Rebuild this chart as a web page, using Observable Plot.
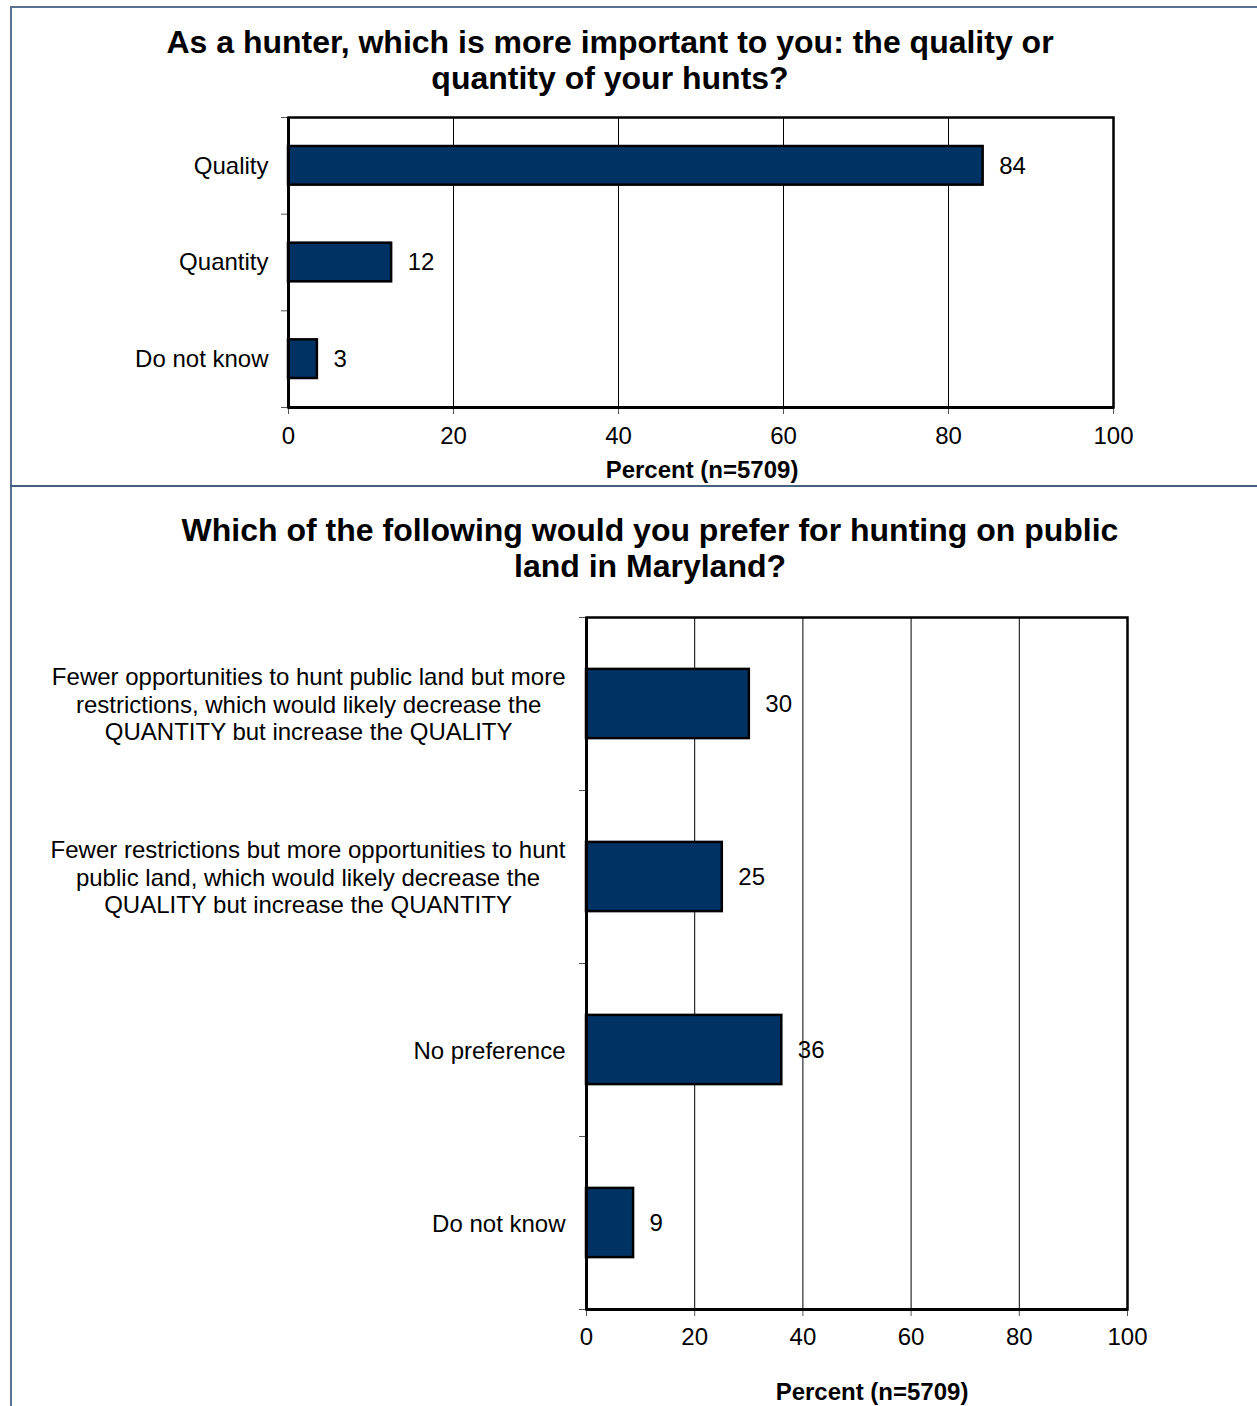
<!DOCTYPE html>
<html>
<head>
<meta charset="utf-8">
<script src="https://cdn.jsdelivr.net/npm/d3@7"></script>
<script src="https://cdn.jsdelivr.net/npm/@observablehq/plot@0.6"></script>
<style>
  html, body { margin: 0; padding: 0; background: #fff; }
  body { width: 1257px; height: 1406px; position: relative; overflow: hidden; font-family: "Liberation Sans", Arial, sans-serif; }
  .border-top { position: absolute; left: 10px; top: 6px; width: 1260px; height: 2px; background: #5b7191; }
  .border-left { position: absolute; left: 10px; top: 6px; width: 2px; height: 1420px; background: #5b7191; }
  .border-mid { position: absolute; left: 10px; top: 485px; width: 1260px; height: 2px; background: #45607f; }
  .title { position: absolute; font-weight: bold; font-size: 32px; line-height: 36px; text-align: center; color: #000; white-space: nowrap; }
  .chart { position: absolute; left: 0; }
  .chart svg { background: transparent; overflow: visible; }
</style>
</head>
<body>
<div class="border-top"></div>
<div class="border-left"></div>
<div class="border-mid"></div>
<div class="title" id="t1" style="left:60px; width:1100px; top:24px;"></div>
<div class="title" id="t2" style="left:100px; width:1100px; top:512px;"></div>
<div class="chart" id="c1" style="top:100px;"></div>
<div class="chart" id="c2" style="top:600px;"></div>
<script>
// ---- Data ----
const title1 = ["As a hunter, which is more important to you: the quality or", "quantity of your hunts?"];
const categories1 = ["Quality", "Quantity", "Do not know"];
const values1 = [84.2, 12.5, 3.5];
const labels1 = ["84", "12", "3"];

const title2 = ["Which of the following would you prefer for hunting on public", "land in Maryland?"];
const categories2 = [
  "Fewer opportunities to hunt public land but more\nrestrictions, which would likely decrease the\nQUANTITY but increase the QUALITY",
  "Fewer restrictions but more opportunities to hunt\npublic land, which would likely decrease the\nQUALITY but increase the QUANTITY",
  "No preference",
  "Do not know"
];
const values2 = [30.1, 25.1, 36.1, 8.7];
const labels2 = ["30", "25", "36", "9"];

const xTicks = [0, 20, 40, 60, 80, 100];
const xLabel = "Percent (n=5709)";

// ---- Titles ----
document.getElementById("t1").innerHTML = title1.join("<br>");
document.getElementById("t2").innerHTML = title2.join("<br>");

const FS = 24;
const ctx = document.createElement("canvas").getContext("2d");
ctx.font = FS + "px 'Liberation Sans'";
function blockWidth(s) { return d3.max(s.split("\n"), l => ctx.measureText(l).width); }

const BAR = "#003264";
const PAD = 0.3;

function makeChart({cats, vals, labs, width, height, mt, mb, ml, mr, labelDy, labelDx, tickPad, centered}) {
  const n = cats.length;
  const data = cats.map((c, i) => ({cat: c, value: vals[i], label: labs[i], i}));
  const catMarks = centered
    ? data.map(d => Plot.text([d], {
        y: d => d.i + 0.5, text: "cat", frameAnchor: "left",
        textAnchor: "middle", dx: -(21 + blockWidth(d.cat) / 2),
        lineHeight: 1.15, fontSize: FS, fill: "#000"
      }))
    : [Plot.text(data, {y: d => d.i + 0.5, text: "cat", frameAnchor: "left", textAnchor: "end", dx: -20, fontSize: FS, fill: "#000"})];
  return Plot.plot({
    width, height,
    marginTop: mt, marginBottom: mb, marginLeft: ml, marginRight: mr,
    style: {fontFamily: "'Liberation Sans', Arial, sans-serif", background: "transparent", color: "#000"},
    x: {domain: [0, 100]},
    y: {domain: [0, n], reverse: true},
    marks: [
      Plot.ruleX(xTicks.slice(1, -1), {stroke: "#000", strokeWidth: 1}),
      Plot.rectX(data, {x1: 0, x2: "value", y1: d => d.i + PAD, y2: d => d.i + 1 - PAD, fill: BAR, stroke: "#000", strokeWidth: 2.5}),
      Plot.text(data, {x: "value", y: d => d.i + 0.5, text: "label", textAnchor: "start", dx: 16, fontSize: FS, fill: "#000"}),
      Plot.axisX({ticks: xTicks, tickSize: 7, tickPadding: tickPad, fontSize: FS, label: null, stroke: "#555", color: "#000"}),
      Plot.axisY({ticks: d3.range(n + 1), tickSize: 7, tickFormat: () => "", label: null, stroke: "#555"}),
      Plot.frame({stroke: "#000", strokeWidth: 2.5}),
      Plot.ruleX([0], {stroke: "#000", strokeWidth: 3}),
      Plot.ruleY([n], {stroke: "#000", strokeWidth: 3}),
      ...catMarks,
      Plot.text([xLabel], {frameAnchor: "bottom", dy: labelDy, dx: labelDx, fontSize: FS, fontWeight: "bold", fill: "#000"})
    ]
  });
}

document.getElementById("c1").append(makeChart({
  cats: categories1, vals: values1, labs: labels1,
  width: 1257, height: 385, mt: 17, mb: 78, ml: 288, mr: 144, labelDy: 70, labelDx: 1, tickPad: 12, centered: false
}));
document.getElementById("c2").append(makeChart({
  cats: categories2, vals: values2, labs: labels2,
  width: 1257, height: 806, mt: 17, mb: 97, ml: 586, mr: 130, labelDy: 90, labelDx: 15, tickPad: 11, centered: true
}));
</script>
</body>
</html>
